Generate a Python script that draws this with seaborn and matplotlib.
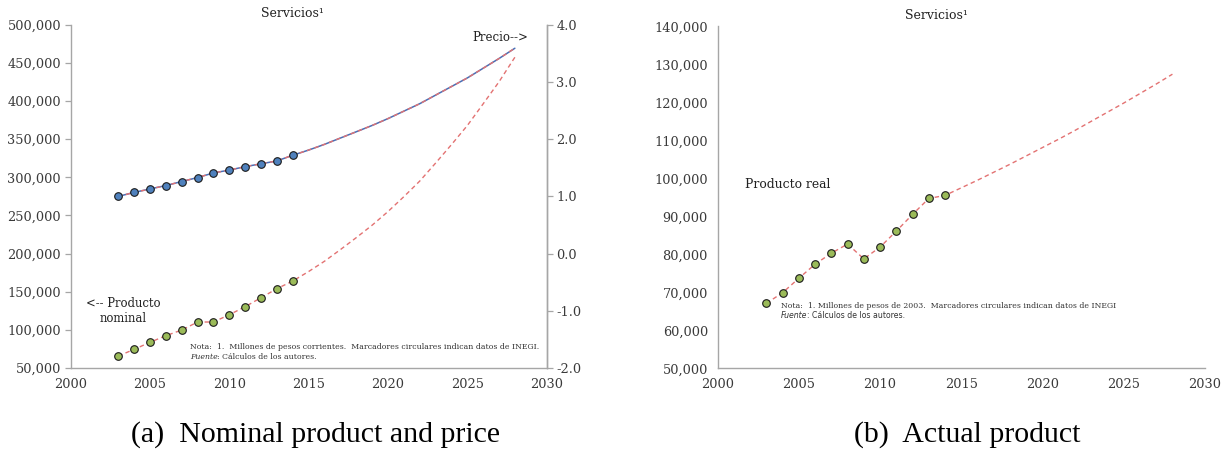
import matplotlib
matplotlib.use("Agg")
import matplotlib.pyplot as plt
import matplotlib.ticker as mticker
import seaborn as sns

# Observed INEGI data (2003-2014)
years_hist = [2003, 2004, 2005, 2006, 2007, 2008, 2009, 2010, 2011, 2012, 2013, 2014]
nominal_hist = [65700, 74500, 83700, 92400, 99800, 110300, 110300, 119900, 130400, 142200, 154000, 164100]
price_hist = [1.00, 1.07, 1.13, 1.19, 1.26, 1.33, 1.41, 1.46, 1.52, 1.57, 1.62, 1.72]
real_hist = [67100, 69900, 73700, 77400, 80300, 82700, 78800, 81900, 86100, 90500, 94700, 95500]

# Projections (2014-2028)
years_proj = [2014, 2015, 2016, 2017, 2018, 2019, 2020, 2021, 2022, 2023, 2024, 2025, 2026, 2027, 2028]
nominal_proj = [164100, 176500, 190000, 205200, 220900, 237200, 255100, 274600, 295000,
                318600, 342800, 367800, 396300, 425200, 457400]
price_proj = [1.72, 1.81, 1.91, 2.02, 2.13, 2.24, 2.36, 2.49, 2.62, 2.77, 2.92, 3.07, 3.24, 3.41, 3.59]
real_proj = [95500, 97500, 99500, 101600, 103700, 105900, 108100, 110300, 112600,
             115000, 117400, 119800, 122300, 124800, 127400]

x_ticks = [2000, 2005, 2010, 2015, 2020, 2025, 2030]
left_yticks = [50000, 100000, 150000, 200000, 250000, 300000, 350000, 400000, 450000, 500000]
price_ticks = [-2.0, -1.0, 0.0, 1.0, 2.0, 3.0, 4.0]
real_yticks = [50000, 60000, 70000, 80000, 90000, 100000, 110000, 120000, 130000, 140000]

sns.set_style("white")
plt.rcParams["font.family"] = ["DejaVu Serif"]

BLUE_LINE = "#4A6FB5"
BLUE_FILL = "#4F81BD"
GREEN_FILL = "#9BBB59"
RED = "#E37272"
SPINE = "#A6A6A6"
TXT = "#3a3a3a"
DASH = (0, (3.2, 2.4))
NOTE_SIZE = 5.6

fig = plt.figure(figsize=(12.28, 4.49), dpi=100)
ax1 = fig.add_axes([0.0576, 0.1804, 0.3875, 0.7644])
ax3 = fig.add_axes([0.5844, 0.1797, 0.3968, 0.7617])
ax2 = ax1.twinx()

thousands = mticker.FuncFormatter(lambda v, p: f"{v:,.0f}")


def style_axis(ax):
    ax.spines["top"].set_visible(False)
    for side in ["left", "bottom", "right"]:
        ax.spines[side].set_color(SPINE)
        ax.spines[side].set_linewidth(1.0)
    ax.tick_params(axis="both", which="both", direction="out", length=4, width=0.9,
                   color=SPINE, labelsize=9.3, labelcolor=TXT, pad=3)
    ax.grid(False)


def two_part_note(ax, x, y, italic_part, rest, family=None):
    kw = dict(fontsize=NOTE_SIZE, color="#333333")
    if family:
        kw["family"] = family
    first = ax.text(x, y, italic_part, ha="left", va="center", style="italic", **kw)
    ax.annotate(rest, xy=(1, 0), xycoords=first, ha="left", va="bottom", **kw)


# Panel (a): nominal product (left axis) and price (right axis)
sns.lineplot(x=years_hist + years_proj[1:], y=nominal_hist + nominal_proj[1:], ax=ax1,
             color=RED, linewidth=1.0, linestyle=DASH, zorder=2)
sns.scatterplot(x=years_hist, y=nominal_hist, ax=ax1, color=GREEN_FILL, s=30,
                edgecolor="#1a1a1a", linewidth=0.8, zorder=3)

price_years = years_hist + years_proj[1:]
price_vals = price_hist + price_proj[1:]
sns.lineplot(x=price_years, y=price_vals, ax=ax2, color=BLUE_LINE, linewidth=1.1, zorder=2)
sns.lineplot(x=price_years, y=price_vals, ax=ax2, color=RED, linewidth=1.0,
             linestyle=DASH, zorder=3)
sns.scatterplot(x=years_hist, y=price_hist, ax=ax2, color=BLUE_FILL, s=30,
                edgecolor="#1a1a1a", linewidth=0.8, zorder=4)

ax1.set_xlim(2000, 2030)
ax1.set_ylim(50000, 500000)
ax1.set_xticks(x_ticks)
ax1.set_yticks(left_yticks)
ax1.yaxis.set_major_formatter(thousands)
ax2.set_ylim(-2.0, 4.0)
ax2.set_yticks(price_ticks)
ax2.yaxis.set_major_formatter(mticker.FormatStrFormatter("%.1f"))
style_axis(ax1)
style_axis(ax2)
ax2.spines["left"].set_visible(False)
ax2.spines["bottom"].set_visible(False)
for a in (ax1, ax2):
    a.set_xlabel("")
    a.set_ylabel("")

ax1.text(0.466, 1.014, "Servicios\u00b9", transform=ax1.transAxes, ha="center",
         va="bottom", fontsize=9, color="#222222")
ax2.text(2028.85, 3.78, "Precio-->", ha="right", va="center", fontsize=8.5, color="#222222")
ax1.text(2003.3, 124700, "<-- Producto\nnominal", ha="center", va="center",
         fontsize=8.4, color="#222222", linespacing=1.25)
ax1.text(2007.5, 77900, "Nota:  1.  Millones de pesos corrientes.  Marcadores circulares indican datos de INEGI.",
         ha="left", va="center", fontsize=NOTE_SIZE, color="#333333")
two_part_note(ax1, 2007.5, 64700, "Fuente", ": Cálculos de los autores.")

# Panel (b): real product
sns.lineplot(x=years_hist + years_proj[1:], y=real_hist + real_proj[1:], ax=ax3,
             color=RED, linewidth=1.0, linestyle=DASH, zorder=2)
sns.scatterplot(x=years_hist, y=real_hist, ax=ax3, color=GREEN_FILL, s=30,
                edgecolor="#1a1a1a", linewidth=0.8, zorder=3)
ax3.set_xlim(2000, 2030)
ax3.set_ylim(50000, 140000)
ax3.set_xticks(x_ticks)
ax3.set_yticks(real_yticks)
ax3.yaxis.set_major_formatter(thousands)
style_axis(ax3)
ax3.spines["right"].set_visible(False)
ax3.set_xlabel("")
ax3.set_ylabel("")

ax3.text(0.448, 1.014, "Servicios\u00b9", transform=ax3.transAxes, ha="center",
         va="bottom", fontsize=9, color="#222222")
ax3.text(2001.7, 98500, "Producto real", ha="left", va="center", fontsize=8.9, color="#222222")
ax3.text(2003.9, 66470, "Nota:  1. Millones de pesos de 2003.  Marcadores circulares indican datos de INEGI",
         ha="left", va="center", fontsize=NOTE_SIZE, color="#333333")
two_part_note(ax3, 2003.9, 63950, "Fuente", ": Cálculos de los autores.", family=["DejaVu Sans"])

# Sub-figure captions
fig.text(0.2573, 0.017, "(a)  Nominal product and price", ha="center", va="baseline",
         fontsize=21.5, family=["Liberation Serif"], color="black")
fig.text(0.7875, 0.017, "(b)  Actual product", ha="center", va="baseline",
         fontsize=21.5, family=["Liberation Serif"], color="black")

fig.savefig("out.png", dpi=100)
